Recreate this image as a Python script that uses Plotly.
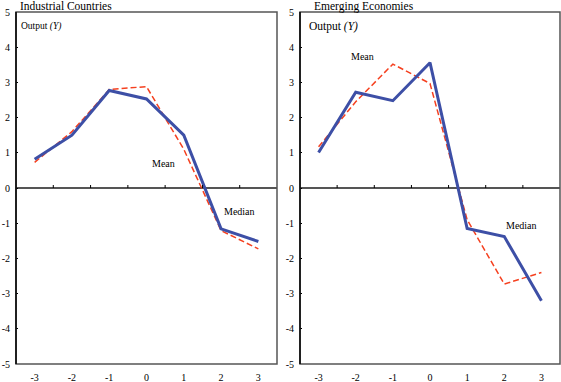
import plotly.graph_objects as go

years = [-3, -2, -1, 0, 1, 2, 3]
ind_median = [0.82, 1.50, 2.77, 2.53, 1.50, -1.16, -1.52]
ind_mean = [0.73, 1.60, 2.80, 2.88, 1.10, -1.21, -1.73]
em_median = [1.01, 2.72, 2.48, 3.56, -1.15, -1.38, -3.20]
em_mean = [1.17, 2.45, 3.52, 2.97, -0.90, -2.73, -2.40]
y_ticks = [-5, -4, -3, -2, -1, 0, 1, 2, 3, 4, 5]
panel_titles = ["Industrial Countries", "Emerging Economies"]

W, H = 561, 382
FONT = "Liberation Serif, Times New Roman, serif"
BLUE = "#3d4fa6"
RED = "#f5401f"
GRAY = "#555555"

fig = go.Figure()

doms = [[16 / W, 277 / W], [300 / W, 560 / W]]
ydom = [(H - 364) / H, (H - 12) / H]

series = [(ind_median, ind_mean), (em_median, em_mean)]
for i, (med, mean) in enumerate(series):
    xa = "x" if i == 0 else "x2"
    ya = "y" if i == 0 else "y2"
    fig.add_trace(go.Scatter(x=years, y=mean, mode="lines",
                             line=dict(color=RED, width=1.5, dash="6px,3px"),
                             xaxis=xa, yaxis=ya, showlegend=False))
    fig.add_trace(go.Scatter(x=years, y=med, mode="lines",
                             line=dict(color=BLUE, width=3),
                             xaxis=xa, yaxis=ya, showlegend=False))

axis_common_x = dict(range=[-3.5, 3.5], tickvals=years, ticktext=[str(v) for v in years],
                     showgrid=False, zeroline=False, showline=False, ticks="",
                     ticklabelstandoff=6,
                     tickfont=dict(family=FONT, size=10, color="black"), automargin=False,
                     fixedrange=True)
axis_common_y = dict(range=[-5, 5], tickvals=y_ticks, ticktext=[str(v) for v in y_ticks],
                     showgrid=False, zeroline=True, zerolinecolor=GRAY, zerolinewidth=2,
                     showline=False, ticks="inside", ticklen=2, tickcolor="black", tickwidth=1,
                     ticklabelstandoff=5,
                     tickfont=dict(family=FONT, size=10, color="black"), automargin=False,
                     fixedrange=True)

fig.update_layout(
    width=W, height=H,
    margin=dict(l=0, r=0, t=0, b=0),
    paper_bgcolor="white", plot_bgcolor="white",
    xaxis=dict(domain=doms[0], anchor="y", **axis_common_x),
    yaxis=dict(domain=ydom, anchor="x", **axis_common_y),
    xaxis2=dict(domain=doms[1], anchor="y2", **axis_common_x),
    yaxis2=dict(domain=ydom, anchor="x2", **axis_common_y),
    font=dict(family=FONT, color="black"),
)

shapes = []
for i in range(2):
    xr = "x" if i == 0 else "x2"
    yr = "y" if i == 0 else "y2"
    # frame
    shapes.append(dict(type="rect", xref=xr + " domain", yref=yr + " domain",
                       x0=0, x1=1, y0=0, y1=1, line=dict(color=GRAY, width=1.5)))
    shapes.append(dict(type="line", xref=xr + " domain", yref=yr + " domain",
                       x0=0, x1=0, y0=0, y1=1, line=dict(color="black", width=1.5)))
    # small ticks on zero line between categories
    for k in range(len(years) - 1):
        xm = (years[k] + years[k + 1]) / 2
        shapes.append(dict(type="line", xref=xr, yref=yr, ysizemode="pixel", yanchor=0,
                           x0=xm, x1=xm, y0=0, y1=3, line=dict(color="black", width=1)))
fig.update_layout(shapes=shapes)

ann = []
# panel titles
ann.append(dict(text=panel_titles[0], xref="paper", yref="paper", x=18 / W, y=(H - 6) / H,
                xanchor="left", yanchor="middle", showarrow=False,
                font=dict(family=FONT, size=11.5)))
ann.append(dict(text=panel_titles[1], xref="paper", yref="paper", x=312 / W, y=(H - 6.5) / H,
                xanchor="left", yanchor="middle", showarrow=False,
                font=dict(family=FONT, size=11.5)))
# output labels
ann.append(dict(text="Output <i>(Y)</i>", xref="paper", yref="paper", x=19 / W, y=(H - 26) / H,
                xanchor="left", yanchor="middle", showarrow=False,
                font=dict(family=FONT, size=9.5)))
ann.append(dict(text="Output <i>(Y)</i>", xref="paper", yref="paper", x=307 / W, y=(H - 26) / H,
                xanchor="left", yanchor="middle", showarrow=False,
                font=dict(family=FONT, size=11.5)))
# series labels
ann.append(dict(text="Mean", xref="x", yref="y", x=0.46, y=0.71, showarrow=False,
                font=dict(family=FONT, size=10)))
ann.append(dict(text="Median", xref="x", yref="y", x=2.5, y=-0.67, showarrow=False,
                font=dict(family=FONT, size=10)))
ann.append(dict(text="Mean", xref="x2", yref="y2", x=-1.83, y=3.73, showarrow=False,
                font=dict(family=FONT, size=10)))
ann.append(dict(text="Median", xref="x2", yref="y2", x=2.47, y=-1.07, showarrow=False,
                font=dict(family=FONT, size=10)))
fig.update_layout(annotations=ann)

fig.write_html("out.html", config={"displayModeBar": False},
               post_script="document.body.style.margin='0';document.body.style.overflow='hidden';")
